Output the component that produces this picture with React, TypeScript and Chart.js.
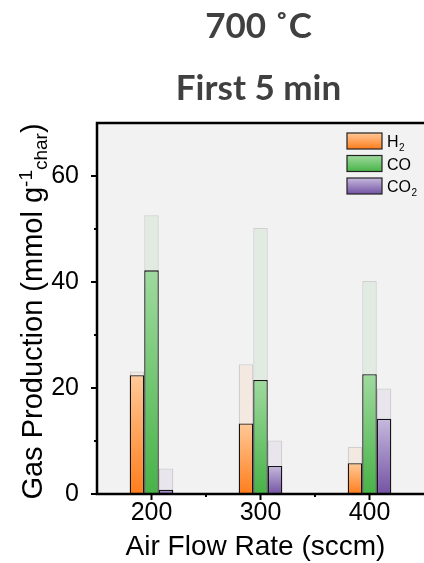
import React, { useEffect, useRef } from 'react';
import { Chart, registerables } from 'chart.js';

Chart.register(...registerables);

// ---- data ----
const CATEGORIES = ['200', '300', '400'];
const SERIES_LABELS = ['H2', 'CO', 'CO2'];
const H2 = [22.4, 13.3, 5.8];
const CO = [42.2, 21.5, 22.6];
const CO2 = [0.8, 5.3, 14.2];
const H2_GHOST = [23.1, 24.5, 8.9];
const CO_GHOST = [52.6, 50.2, 40.2];
const CO2_GHOST = [4.8, 10.1, 19.9];
const Y_LABELED_TICKS = [0, 20, 40, 60];
const Y_MIN = 0;
const Y_MAX = 70;
const TITLE_LINES = ['700 ˚C', 'First 5 min'];
const X_TITLE = 'Air Flow Rate (sccm)';
const Y_TITLE_MAIN = 'Gas Production (mmol g';
const Y_TITLE_SUP = '-1';
const Y_TITLE_SUB = 'char';
const Y_TITLE_END = ')';

// ---- styles ----
const FONT = "'Liberation Sans', Arial, sans-serif";
const TITLE_FONT = "Lato, 'DejaVu Sans', sans-serif";
const GRADS = [
  ['#ffc998', '#ff7d1c'],
  ['#9fda9e', '#47b347'],
  ['#c6b9de', '#7453a4'],
];
const GHOST_FILLS = ['#f3e9e0', '#e1ebe1', '#e8e6ec'];

function gradientFill(idx: number) {
  return (c: any) => {
    const chart = c.chart;
    const ys = chart.scales?.y;
    if (!chart.chartArea || !ys || typeof c.raw !== 'number') return GRADS[idx][1];
    const y0 = ys.getPixelForValue(0);
    const y1 = ys.getPixelForValue(c.raw);
    const g = chart.ctx.createLinearGradient(0, y1, 0, y0);
    g.addColorStop(0, GRADS[idx][0]);
    g.addColorStop(1, GRADS[idx][1]);
    return g;
  };
}

const decoPlugin = {
  id: 'deco',
  beforeDraw(chart: any) {
    const { ctx, chartArea: a } = chart;
    ctx.save();
    ctx.fillStyle = '#f2f2f2';
    ctx.fillRect(a.left, a.top, a.right - a.left, a.bottom - a.top);
    ctx.restore();
  },
  afterDraw(chart: any) {
    const { ctx, chartArea: a, scales } = chart;
    ctx.save();
    // frame
    ctx.strokeStyle = '#000';
    ctx.lineWidth = 2.5;
    ctx.beginPath();
    ctx.moveTo(a.right + 3, a.top);
    ctx.lineTo(a.left, a.top);
    ctx.lineTo(a.left, a.bottom);
    ctx.lineTo(a.right + 3, a.bottom);
    ctx.stroke();

    // y ticks
    ctx.lineWidth = 2;
    const ys = scales.y;
    for (let v = Y_MIN; v < Y_MAX; v += 10) {
      const py = ys.getPixelForValue(v);
      const len = Y_LABELED_TICKS.includes(v) ? 6 : 3;
      ctx.beginPath();
      ctx.moveTo(a.left - len, py);
      ctx.lineTo(a.left, py);
      ctx.stroke();
    }
    // x ticks
    const xs = scales.x;
    for (let i = 0; i < CATEGORIES.length; i++) {
      const px = xs.getPixelForValue(i);
      ctx.beginPath();
      ctx.moveTo(px, a.bottom);
      ctx.lineTo(px, a.bottom + 6);
      ctx.stroke();
      if (i < CATEGORIES.length - 1) {
        const mx = (px + xs.getPixelForValue(i + 1)) / 2;
        ctx.beginPath();
        ctx.moveTo(mx, a.bottom);
        ctx.lineTo(mx, a.bottom + 3);
        ctx.stroke();
      }
    }

    // titles
    ctx.fillStyle = '#404040';
    ctx.textAlign = 'center';
    ctx.textBaseline = 'alphabetic';
    ctx.font = `bold 35px ${TITLE_FONT}`;
    const cx = (a.left + a.right) / 2 - 2;
    ctx.fillText(TITLE_LINES[0], cx, 38);
    ctx.fillText(TITLE_LINES[1], cx, 100);

    // x title
    ctx.fillStyle = '#000';
    ctx.font = `28px ${FONT}`;
    ctx.fillText(X_TITLE, (a.left + a.right) / 2 - 5, 555);

    // y title (rotated, with super/subscript)
    const mainF = `29px ${FONT}`;
    const smallF = `19px ${FONT}`;
    ctx.font = mainF;
    const w1 = ctx.measureText(Y_TITLE_MAIN).width;
    const w4 = ctx.measureText(Y_TITLE_END).width;
    ctx.font = smallF;
    const w2 = ctx.measureText(Y_TITLE_SUP).width;
    const w3 = ctx.measureText(Y_TITLE_SUB).width;
    const total = w1 + w2 + w3 + w4;
    const centerY = (a.top + a.bottom) / 2 + 3;
    ctx.translate(42, centerY + total / 2);
    ctx.rotate(-Math.PI / 2);
    ctx.textAlign = 'left';
    let x = 0;
    ctx.font = mainF;
    ctx.fillText(Y_TITLE_MAIN, x, 0);
    x += w1;
    ctx.font = smallF;
    ctx.fillText(Y_TITLE_SUP, x, -10);
    x += w2;
    ctx.fillText(Y_TITLE_SUB, x, 5);
    x += w3;
    ctx.font = mainF;
    ctx.fillText(Y_TITLE_END, x, 0);
    ctx.setTransform(1, 0, 0, 1, 0, 0);

    // legend
    const lx = a.right - 77;
    for (let i = 0; i < SERIES_LABELS.length; i++) {
      const by = a.top + 10 + i * 22.5;
      const g = ctx.createLinearGradient(0, by, 0, by + 16);
      g.addColorStop(0, GRADS[i][0]);
      g.addColorStop(1, GRADS[i][1]);
      ctx.fillStyle = g;
      ctx.fillRect(lx, by, 35, 16);
      ctx.strokeStyle = '#222';
      ctx.lineWidth = 1.2;
      ctx.strokeRect(lx, by, 35, 16);
      const label = SERIES_LABELS[i];
      const m = label.match(/^(.*?)(\d*)$/);
      const base = m ? m[1] : label;
      const sub = m ? m[2] : '';
      ctx.fillStyle = '#000';
      ctx.textAlign = 'left';
      ctx.font = `16px ${FONT}`;
      ctx.fillText(base, lx + 40, by + 14);
      if (sub) {
        const bw = ctx.measureText(base).width;
        ctx.font = `10px ${FONT}`;
        ctx.fillText(sub, lx + 40 + bw + 0.5, by + 18);
      }
    }
    ctx.restore();
  },
};

export default function App() {
  const ref = useRef<HTMLCanvasElement>(null);
  useEffect(() => {
    if (!ref.current) return;
    const mains = [H2, CO, CO2];
    const ghosts = [H2_GHOST, CO_GHOST, CO2_GHOST];
    const stacks = ['a', 'b', 'c'];
    const datasets: any[] = [];
    mains.forEach((d, i) =>
      datasets.push({
        label: SERIES_LABELS[i],
        data: d,
        stack: stacks[i],
        backgroundColor: gradientFill(i),
        borderColor: '#151515',
        borderWidth: 1.3,
      })
    );
    ghosts.forEach((d, i) =>
      datasets.push({
        label: SERIES_LABELS[i] + ' total',
        data: d,
        stack: stacks[i],
        backgroundColor: GHOST_FILLS[i],
        borderColor: '#d0d0d0',
        borderWidth: 1.3,
      })
    );
    const chart = new Chart(ref.current, {
      type: 'bar',
      data: { labels: CATEGORIES, datasets },
      options: {
        animation: false,
        responsive: false,
        devicePixelRatio: 1,
        layout: { padding: { top: 123, left: 0, right: 0, bottom: 0 } },
        datasets: { bar: { categoryPercentage: 0.4, barPercentage: 1 } },
        plugins: { legend: { display: false }, tooltip: { enabled: false }, title: { display: false } },
        scales: {
          x: {
            type: 'category',
            offset: true,
            grid: { display: false },
            border: { display: false },
            ticks: { color: '#000', font: { family: FONT, size: 25 }, padding: -4, maxRotation: 0 },
            afterFit: (s: any) => {
              s.height = 69;
              s.paddingLeft = 0;
              s.paddingRight = 0;
            },
          },
          y: {
            type: 'linear',
            stacked: false,
            min: Y_MIN,
            max: Y_MAX,
            grid: { display: false },
            border: { display: false },
            ticks: {
              stepSize: 10,
              color: '#000',
              font: { family: FONT, size: 25 },
              padding: 10,
              callback: (v: any) => (Y_LABELED_TICKS.includes(v) ? String(v) : ''),
            },
            afterFit: (s: any) => {
              s.width = 97;
              s.paddingTop = 0;
              s.paddingBottom = 0;
            },
          },
        },
      },
      plugins: [decoPlugin],
    } as any);
    return () => chart.destroy();
  }, []);
  return (
    <div style={{ position: 'fixed', left: 0, top: 0, width: 424, height: 563, background: '#fff' }}>
      <canvas ref={ref} width={424} height={563} style={{ display: 'block' }} />
    </div>
  );
}
